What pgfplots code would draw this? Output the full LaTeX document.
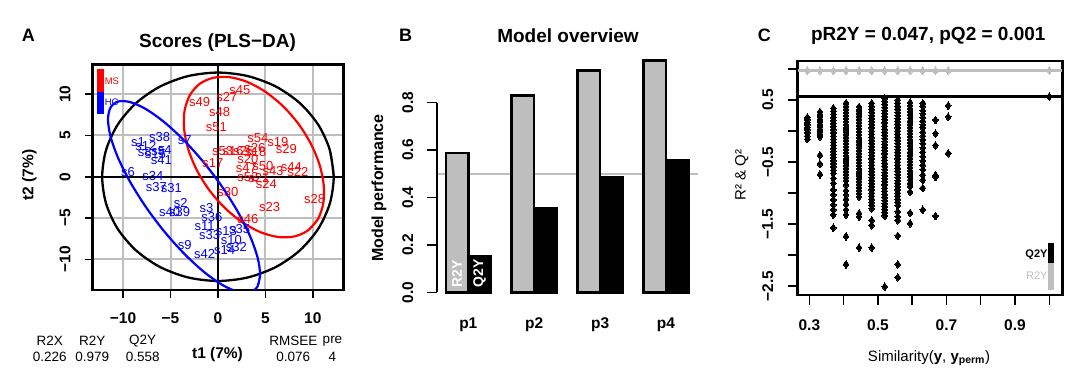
\documentclass[border=0pt]{standalone}
\usepackage{fontspec}
\setmainfont{Liberation Sans}
\usepackage{pgfplots}
\pgfplotsset{compat=1.18}
\definecolor{rgray}{RGB}{190,190,190}
\definecolor{rred}{RGB}{255,0,0}
\definecolor{rblue}{RGB}{0,0,255}
\newcommand\ticklab{\fontsize{15.5}{18}\selectfont\bfseries}
\newcommand\samp{\fontsize{13}{15}\selectfont}
\newcommand\ttl{\fontsize{19}{22}\selectfont\bfseries}
\newcommand\lab{\fontsize{15.5}{18}\selectfont\bfseries}
\newcommand\smlab{\fontsize{13.5}{16}\selectfont}
\begin{document}
\begin{tikzpicture}
\useasboundingbox (0pt,0pt) rectangle (1080pt,-379pt);
%================ Panel A =================
\begin{axis}[
  at={(92.5pt,-290pt)}, anchor=south west, scale only axis,
  width=250.8pt, height=225.3pt,
  xmin=-13.22, xmax=13.21, ymin=-13.69, ymax=13.55,
  xtick={-10,-5,0,5,10}, ytick={-10,-5,0,5,10},
  xticklabels={\textminus10,\textminus5,0,5,10},
  yticklabels={\textminus10,\textminus5,0,5,10},
  tick align=outside, major tick length=8pt,
  xtick pos=bottom, ytick pos=left,
  tick style={black, line width=1.5pt},
  grid=major, grid style={rgray, line width=2pt},
  axis line style={black, line width=2.5pt},
  xticklabel style={font=\ticklab, anchor=center, yshift=-20pt},
  yticklabel style={font=\ticklab, anchor=center, xshift=-19.5pt, rotate=90},
]
\addplot[black, line width=2pt] coordinates {(-13.22,0)(13.21,0)};
\addplot[black, line width=2pt] coordinates {(0,-13.69)(0,13.55)};
% Hotelling ellipse
\addplot[black, line width=2.3pt, smooth, mark=none] coordinates {
(12.2,0)(11.784,3.261)(10.565,6.3)(8.627,8.909)(6.1,10.912)(3.157,12.170)(0,12.6)
(-3.157,12.170)(-6.1,10.912)(-8.627,8.909)(-10.565,6.3)(-11.784,3.261)(-12.2,0)
(-11.784,-3.261)(-10.565,-6.3)(-8.627,-8.909)(-6.1,-10.912)(-3.157,-12.170)(0,-12.6)
(3.157,-12.170)(6.1,-10.912)(8.627,-8.909)(10.565,-6.3)(11.784,-3.261)(12.2,0)(11.784,3.261)};
% MS ellipse
\addplot[rred, line width=2.2pt, smooth, mark=none] coordinates {
(9.51,-6.47)(10.53,-5.13)(11.09,-3.27)(11.15,-1.04)(10.71,1.44)(9.80,3.97)(8.48,6.40)
(6.84,8.55)(4.99,10.28)(3.06,11.48)(1.18,12.05)(-0.52,11.96)(-1.93,11.23)(-2.95,9.89)
(-3.51,8.03)(-3.57,5.80)(-3.13,3.33)(-2.22,0.79)(-0.90,-1.64)(0.75,-3.79)(2.59,-5.52)
(4.52,-6.72)(6.40,-7.29)(8.10,-7.20)(9.51,-6.47)(10.53,-5.13)};
% HC ellipse
\addplot[rblue, line width=2.2pt, smooth, mark=none] coordinates {
(4.443,-11.820)(4.170,-13.271)(3.369,-13.986)(2.095,-13.913)(0.436,-13.059)(-1.498,-11.481)
(-3.572,-9.287)(-5.646,-6.627)(-7.580,-3.681)(-9.239,-0.651)(-10.513,2.256)(-11.314,4.843)
(-11.587,6.934)(-11.314,8.385)(-10.513,9.100)(-9.239,9.027)(-7.580,8.173)(-5.646,6.595)
(-3.572,4.401)(-1.498,1.741)(0.436,-1.205)(2.095,-4.235)(3.369,-7.142)(4.170,-9.729)
(4.443,-11.820)(4.170,-13.271)};
% sample labels
\addplot[rred, draw=none, mark=none, nodes near coords, point meta=explicit symbolic,
  nodes near coords align=center, every node near coord/.append style={font=\samp, inner sep=0pt}]
  table[meta=l] {
x y l
2.3 10.45 s45
0.95 9.65 s27
-1.93 9.0 s49
0.18 7.8 s48
-0.17 5.98 s51
4.21 4.66 s54
6.32 4.25 s19
7.21 3.36 s29
0.5 3.15 s53
1.6 3.15 s16
2.7 3.15 s25
3.9 3.5 s26
4.0 2.95 s18
3.16 2.15 s20
-0.53 1.63 s17
3.0 1.03 s47
4.74 1.34 s50
5.8 0.74 s43
7.73 1.22 s44
8.43 0.54 s22
3.16 0.0 s52
4.3 -0.1 s21
5.1 -0.9 s24
1.05 -1.88 s30
10.19 -2.68 s28
5.45 -3.6 s23
3.16 -5.1 s46
};
\addplot[rblue, draw=none, mark=none, nodes near coords, point meta=explicit symbolic,
  nodes near coords align=center, every node near coord/.append style={font=\samp, inner sep=0pt}]
  table[meta=l] {
x y l
-6.14 4.78 s38
-3.51 4.45 s7
-8.43 4.25 s1
-7.6 3.75 s12
-7.72 2.96 s8
-6.6 2.8 s15
-6.3 3.05 s5
-5.62 3.24 s4
-5.96 2.03 s41
-9.48 0.54 s6
-6.85 0.13 s34
-6.49 -1.2 s37
-4.91 -1.32 s31
-3.93 -3.2 s2
-5.09 -4.22 s40
-4.04 -4.22 s39
-1.22 -3.73 s3
-0.63 -4.86 s36
-1.40 -5.95 s11
-0.87 -7.04 s33
0.89 -6.55 s13
2.29 -6.31 s35
1.41 -7.64 s10
1.94 -8.52 s32
0.71 -8.85 s14
-1.40 -9.37 s42
-3.51 -8.25 s9
};
% legend
\fill[rred] (axis cs:-12.75,13.0) rectangle (axis cs:-12.04,10.25);
\fill[rblue] (axis cs:-12.75,10.25) rectangle (axis cs:-12.04,7.63);
\node[anchor=west, text=rred, font=\fontsize{9.5}{11}\selectfont, inner sep=0pt] at (axis cs:-11.95,11.55) {MS};
\node[anchor=west, text=rblue, font=\fontsize{9.5}{11}\selectfont, inner sep=0pt] at (axis cs:-11.95,8.96) {HC};
\end{axis}
\node[font=\fontsize{18}{20}\selectfont\bfseries] at (28.3pt,-35pt) {A};
\node[font=\ttl] at (217.5pt,-42.7pt) {Scores (PLS\textminus DA)};
\node[font=\lab, rotate=90] at (29.3pt,-175pt) {t2 (7\%)};
\node[font=\lab] at (217.5pt,-354pt) {t1 (7\%)};
\node[font=\smlab] at (49.7pt,-341pt) {R2X};
\node[font=\smlab] at (49.7pt,-356.5pt) {0.226};
\node[font=\smlab] at (92.3pt,-341pt) {R2Y};
\node[font=\smlab] at (92.3pt,-356.5pt) {0.979};
\node[font=\smlab] at (142.7pt,-341pt) {Q2Y};
\node[font=\smlab] at (142.7pt,-356.5pt) {0.558};
\node[font=\smlab] at (293.3pt,-341pt) {RMSEE};
\node[font=\smlab] at (293.3pt,-356.5pt) {0.076};
\node[font=\smlab] at (332.5pt,-341pt) {pre};
\node[font=\smlab] at (332.5pt,-356.5pt) {4};
%================ Panel B =================
\begin{axis}[
  at={(437pt,-292.3pt)}, anchor=south west, scale only axis,
  width=261pt, height=237pt,
  xmin=0.525, xmax=4.486, ymin=0, ymax=1,
  axis line style={draw=none},
  xtick={1,2,3,4}, xticklabels={p1,p2,p3,p4},
  ytick={0,0.2,0.4,0.6,0.8}, yticklabels={0.0,0.2,0.4,0.6,0.8},
  xtick pos=bottom, ytick pos=left, tick align=outside, major tick length=10pt,
  x tick style={draw=none}, y tick style={black, line width=1.5pt},
  xticklabel style={font=\ticklab, anchor=center, yshift=-22.7pt},
  yticklabel style={font=\ticklab, anchor=center, xshift=-19.3pt, rotate=90},
  clip=false,
]
\addplot[rgray, line width=2pt] coordinates {(0.525,0.5)(4.486,0.5)};
\draw[black, line width=2pt] (axis cs:0.525,0) -- (axis cs:0.525,0.8);
\addplot[ybar, bar width=0.341, bar shift=-0.1705, fill=rgray, draw=black, line width=2.5pt]
  coordinates {(1,0.587)(2,0.831)(3,0.935)(4,0.979)};
\addplot[ybar, bar width=0.341, bar shift=0.1705, fill=black, draw=black, line width=2.5pt]
  coordinates {(1,0.154)(2,0.353)(3,0.484)(4,0.558)};
\node[rotate=90, anchor=west, text=white, font=\fontsize{14}{16}\selectfont\bfseries, inner sep=0pt] at (axis cs:0.8295,0.02) {R2Y};
\node[rotate=90, anchor=west, text=white, font=\fontsize{14}{16}\selectfont\bfseries, inner sep=0pt] at (axis cs:1.1705,0.02) {Q2Y};
\end{axis}
\node[font=\fontsize{18}{20}\selectfont\bfseries] at (405.7pt,-35pt) {B};
\node[font=\ttl] at (568pt,-36pt) {Model overview};
\node[font=\fontsize{16}{18}\selectfont\bfseries, rotate=90] at (379pt,-188pt) {Model performance};
%================ Panel C =================
\begin{axis}[
  at={(797.7pt,-295pt)}, anchor=south west, scale only axis,
  width=264.6pt, height=234pt,
  xmin=0.266, xmax=1.038, ymin=-2.645, ymax=1.13,
  xtick={0.3,0.4,0.5,0.6,0.7,0.8,0.9,1.0},
  xticklabels={0.3,{},0.5,{},0.7,{},0.9,{}},
  ytick={-2.5,-2,-1.5,-1,-0.5,0,0.5,1},
  yticklabels={\textminus2.5,{},\textminus1.5,{},\textminus0.5,{},0.5,{}},
  tick align=outside, major tick length=10pt,
  xtick pos=bottom, ytick pos=left,
  tick style={black, line width=1.5pt},
  axis line style={black, line width=2.5pt},
  xticklabel style={font=\ticklab, anchor=center, yshift=-20pt},
  yticklabel style={font=\ticklab, anchor=center, xshift=-20pt, rotate=90},
]
\addplot[rgray, line width=3pt] coordinates {(0.266,0.979)(1.038,0.979)};
\addplot[black, line width=2.7pt] coordinates {(0.266,0.558)(1.038,0.558)};
\addplot[only marks, mark=diamond*, mark size=3.9pt, mark options={rgray, fill=rgray, line width=0pt}] coordinates {
(0.294,0.975)(0.331,0.975)(0.370,0.975)(0.407,0.975)(0.445,0.975)(0.482,0.975)
(0.520,0.975)(0.558,0.975)(0.594,0.975)(0.631,0.975)(0.668,0.975)(0.705,0.975)(1.0,0.979)};
\addplot[only marks, mark=diamond*, mark size=3.8pt, mark options={black, fill=black, line width=0pt}] coordinates {
(1.0,0.558)
(0.294,0.22)(0.294,0.18)(0.294,0.14)(0.294,0.10)(0.294,0.06)(0.294,0.02)(0.294,-0.03)(0.294,-0.08)(0.294,-0.13)
(0.331,0.31)(0.331,0.27)(0.331,0.23)(0.331,0.19)(0.331,0.15)(0.331,0.11)(0.331,0.07)(0.331,0.03)(0.331,-0.01)(0.331,-0.05)(0.331,-0.09)(0.331,-0.39)(0.331,-0.53)(0.331,-0.70)
(0.370,0.37)(0.370,0.32)(0.370,0.27)(0.370,0.22)(0.370,0.17)(0.370,0.12)(0.370,0.07)(0.370,0.02)(0.370,-0.03)(0.370,-0.08)(0.370,-0.13)(0.370,-0.18)(0.370,-0.23)(0.370,-0.28)(0.370,-0.33)(0.370,-0.38)(0.370,-0.43)(0.370,-0.48)(0.370,-0.53)(0.370,-0.58)(0.370,-0.63)(0.370,-0.68)(0.370,-0.76)(0.370,-0.84)(0.370,-0.95)(0.370,-1.03)(0.370,-1.11)(0.370,-1.19)(0.370,-1.27)(0.370,-1.35)(0.370,-1.56)
(0.407,0.45)(0.407,0.40)(0.407,0.35)(0.407,0.30)(0.407,0.25)(0.407,0.20)(0.407,0.15)(0.407,0.10)(0.407,0.05)(0.407,0.00)(0.407,-0.05)(0.407,-0.10)(0.407,-0.15)(0.407,-0.20)(0.407,-0.25)(0.407,-0.30)(0.407,-0.35)(0.407,-0.40)(0.407,-0.45)(0.407,-0.50)(0.407,-0.55)(0.407,-0.60)(0.407,-0.65)(0.407,-0.70)(0.407,-0.75)(0.407,-0.80)(0.407,-0.87)(0.407,-0.96)(0.407,-1.03)(0.407,-1.10)(0.407,-1.18)(0.407,-1.27)(0.407,-1.35)(0.407,-1.70)(0.407,-2.15)
(0.445,0.39)(0.445,0.34)(0.445,0.29)(0.445,0.24)(0.445,0.19)(0.445,0.14)(0.445,0.09)(0.445,0.04)(0.445,-0.01)(0.445,-0.06)(0.445,-0.11)(0.445,-0.16)(0.445,-0.21)(0.445,-0.26)(0.445,-0.31)(0.445,-0.36)(0.445,-0.41)(0.445,-0.46)(0.445,-0.51)(0.445,-0.56)(0.445,-0.61)(0.445,-0.66)(0.445,-0.71)(0.445,-0.76)(0.445,-0.81)(0.445,-0.86)(0.445,-0.91)(0.445,-0.96)(0.445,-1.01)(0.445,-1.06)(0.445,-1.33)(0.445,-1.38)(0.445,-1.88)
(0.482,0.45)(0.482,0.40)(0.482,0.35)(0.482,0.30)(0.482,0.25)(0.482,0.20)(0.482,0.15)(0.482,0.10)(0.482,0.05)(0.482,0.00)(0.482,-0.05)(0.482,-0.10)(0.482,-0.15)(0.482,-0.20)(0.482,-0.25)(0.482,-0.30)(0.482,-0.35)(0.482,-0.40)(0.482,-0.45)(0.482,-0.50)(0.482,-0.55)(0.482,-0.60)(0.482,-0.65)(0.482,-0.70)(0.482,-0.75)(0.482,-0.80)(0.482,-0.85)(0.482,-0.90)(0.482,-0.95)(0.482,-1.00)(0.482,-1.05)(0.482,-1.10)(0.482,-1.15)(0.482,-1.20)(0.482,-1.25)(0.482,-1.44)(0.482,-1.52)(0.482,-1.88)
(0.520,0.53)(0.520,0.48)(0.520,0.43)(0.520,0.38)(0.520,0.33)(0.520,0.28)(0.520,0.23)(0.520,0.18)(0.520,0.13)(0.520,0.08)(0.520,0.03)(0.520,-0.02)(0.520,-0.07)(0.520,-0.12)(0.520,-0.17)(0.520,-0.22)(0.520,-0.27)(0.520,-0.32)(0.520,-0.37)(0.520,-0.42)(0.520,-0.47)(0.520,-0.52)(0.520,-0.57)(0.520,-0.62)(0.520,-0.67)(0.520,-0.72)(0.520,-0.77)(0.520,-0.82)(0.520,-0.87)(0.520,-0.92)(0.520,-0.97)(0.520,-1.02)(0.520,-1.07)(0.520,-1.12)(0.520,-1.17)(0.520,-1.22)(0.520,-1.27)(0.520,-1.32)(0.520,-1.37)(0.520,-2.51)
(0.558,0.50)(0.558,0.45)(0.558,0.40)(0.558,0.35)(0.558,0.30)(0.558,0.25)(0.558,0.20)(0.558,0.15)(0.558,0.10)(0.558,0.05)(0.558,0.00)(0.558,-0.05)(0.558,-0.10)(0.558,-0.15)(0.558,-0.20)(0.558,-0.25)(0.558,-0.30)(0.558,-0.35)(0.558,-0.40)(0.558,-0.45)(0.558,-0.50)(0.558,-0.55)(0.558,-0.60)(0.558,-0.65)(0.558,-0.70)(0.558,-0.75)(0.558,-0.80)(0.558,-0.85)(0.558,-0.90)(0.558,-0.95)(0.558,-1.00)(0.558,-1.05)(0.558,-1.10)(0.558,-1.15)(0.558,-1.20)(0.558,-1.30)(0.558,-1.38)(0.558,-1.44)(0.558,-1.69)(0.558,-2.15)(0.558,-2.36)
(0.594,0.46)(0.594,0.41)(0.594,0.36)(0.594,0.31)(0.594,0.26)(0.594,0.21)(0.594,0.16)(0.594,0.11)(0.594,0.06)(0.594,0.01)(0.594,-0.04)(0.594,-0.09)(0.594,-0.14)(0.594,-0.19)(0.594,-0.24)(0.594,-0.29)(0.594,-0.34)(0.594,-0.39)(0.594,-0.44)(0.594,-0.49)(0.594,-0.54)(0.594,-0.59)(0.594,-0.64)(0.594,-0.69)(0.594,-0.74)(0.594,-0.79)(0.594,-0.84)(0.594,-0.89)(0.594,-0.98)(0.594,-1.32)(0.594,-1.49)
(0.631,0.45)(0.631,0.40)(0.631,0.33)(0.631,0.28)(0.631,0.22)(0.631,0.16)(0.631,0.10)(0.631,0.05)(0.631,-0.02)(0.631,-0.08)(0.631,-0.14)(0.631,-0.20)(0.631,-0.27)(0.631,-0.34)(0.631,-0.41)(0.631,-0.48)(0.631,-0.55)(0.631,-0.62)(0.631,-0.71)(0.631,-0.79)(0.631,-0.92)(0.631,-1.27)
(0.668,0.18)(0.668,-0.04)(0.668,-0.23)(0.668,-0.71)(0.668,-0.74)(0.668,-1.37)
(0.705,0.41)(0.705,0.23)(0.705,-0.36)};
% legend
\fill[black] (axis cs:0.9966,-1.80) rectangle (axis cs:1.0132,-2.124);
\fill[rgray] (axis cs:0.9966,-2.124) rectangle (axis cs:1.0132,-2.564);
\node[anchor=east, font=\fontsize{11}{13}\selectfont\bfseries, inner sep=0pt] at (axis cs:0.9954,-2.0) {Q2Y};
\node[anchor=east, text=rgray, font=\fontsize{11}{13}\selectfont, inner sep=0pt] at (axis cs:0.9954,-2.339) {R2Y};
\end{axis}
\node[font=\fontsize{18}{20}\selectfont\bfseries] at (764.3pt,-35pt) {C};
\node[font=\ttl] at (928.3pt,-36pt) {pR2Y = 0.047, pQ2 = 0.001};
\node[font=\fontsize{15}{18}\selectfont, rotate=90] at (741.7pt,-175pt) {R² \& Q²};
\node[font=\fontsize{15}{18}\selectfont] at (929pt,-358pt) {Similarity(\textbf{y}, \textbf{y}\textsubscript{\textbf{perm}})};
\end{tikzpicture}
\end{document}
